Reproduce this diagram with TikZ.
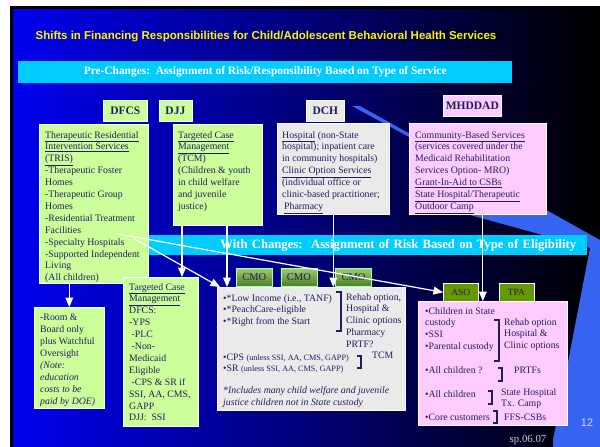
\documentclass[tikz,border=0pt]{standalone}
\usepackage{fontspec}
\setmainfont{Liberation Serif}
\newfontfamily\arialfont{Liberation Sans}
\usetikzlibrary{arrows,positioning}

\definecolor{slideblue}{RGB}{0,0,240}
\definecolor{slidestripe}{RGB}{55,100,240}
\definecolor{barcyan}{RGB}{0,204,255}
\definecolor{boxgreen}{RGB}{204,255,153}
\definecolor{boxgray}{RGB}{234,234,234}
\definecolor{boxpink}{RGB}{255,204,255}
\definecolor{ink}{RGB}{30,30,96}
\definecolor{olivebox}{RGB}{102,153,0}
\definecolor{cmotop}{RGB}{160,205,110}
\definecolor{cmobottom}{RGB}{75,125,35}

\newcommand{\bodysize}{\fontsize{9.8}{11.9}\selectfont}
\newcommand{\notesize}{\fontsize{8.2}{10}\selectfont}

\begin{document}
\begin{tikzpicture}[x=1pt,y=-1pt,>=triangle 45]
  \tikzstyle{panel}=[draw=white,line width=0.6pt,anchor=north west,inner sep=0pt]
  \tikzstyle{tag}=[panel,text=ink,font=\fontsize{11.5}{12}\selectfont\bfseries]
  \tikzstyle{cmo}=[panel,draw=white!70!green,top color=cmotop,bottom color=cmobottom,
                   minimum width=36pt,minimum height=18pt,text=ink,font=\fontsize{10.5}{12}\selectfont]
  \tikzstyle{ins}=[panel,fill=olivebox,minimum width=35pt,minimum height=18pt,text=ink,
                   font=\fontsize{9.5}{12}\selectfont]
  \tikzstyle{txt}=[anchor=north west,inner sep=0pt,align=left,text=ink,font=\bodysize]
  \tikzstyle{bar}=[fill=barcyan,anchor=north west,inner sep=0pt,text=white]
  \tikzstyle{flow}=[->,draw=white,line width=1.2pt]
  \tikzstyle{brace}=[draw=ink,line width=1.6pt]

  \useasboundingbox (0,0) rectangle (600,447);
  \fill[black] (10,6) rectangle (600,447);
  \shade[left color=slideblue,middle color=slideblue!80!black,right color=black]
    (13,9) rectangle (600,447);
  \fill[slidestripe] (352,106) -- (360,106) -- (600,240) -- (600,447) -- (553,447)
    -- (553,440) -- (590,248) -- (470,215) -- (409,137) -- cycle;

  \node[text=yellow,font=\arialfont\bfseries\fontsize{11.5}{13}\selectfont] (title) at (266,37)
    {Shifts in Financing Responsibilities for Child/Adolescent Behavioral Health Services};
  \node[bar,minimum width=494pt,minimum height=22pt,font=\bfseries\fontsize{11.4}{13}\selectfont]
    (pre) at (18,61) {Pre-Changes:\ \ Assignment of Risk/Responsibility Based on Type of Service};
  \node[bar,text width=420pt,inner xsep=11pt,minimum height=20pt,align=right,
        font=\bfseries\fontsize{12.7}{15}\selectfont]
    (post) at (145,235) {With Changes:\ \ Assignment of Risk Based on Type of Eligibility};

  \node[tag,fill=boxgreen,minimum width=44pt,minimum height=21pt] (dfcs) at (103,100) {DFCS};
  \node[tag,fill=boxgreen,minimum width=33pt,minimum height=21pt,right=11pt of dfcs] (djj) {DJJ};
  \node[tag,fill=boxgray,minimum width=38pt,minimum height=21pt] (dch) at (306,100) {DCH};
  \node[tag,fill=boxpink,minimum width=58pt,minimum height=21pt] (mhddad) at (443,95) {MHDDAD};

  \node[panel,fill=boxgreen,minimum width=109pt,minimum height=159pt] (tris) at (39,124) {};
  \node[panel,fill=boxgreen,minimum width=89pt,minimum height=101pt] (djjtcm) at (173,124) {};
  \node[panel,fill=boxgray,minimum width=112pt,minimum height=91pt] (dchbox) at (277,123) {};
  \node[panel,fill=boxpink,minimum width=137pt,minimum height=91pt] (mhbox) at (409,123) {};
  \node[panel,fill=boxgreen,minimum width=70pt,minimum height=101pt] (room) at (34,307) {};
  \node[panel,fill=boxgreen,minimum width=75pt,minimum height=149pt] (tcm) at (123,277) {};
  \node[panel,fill=boxgray,minimum width=188pt,minimum height=123pt] (mid) at (217,287) {};
  \node[panel,fill=boxpink,minimum width=149pt,minimum height=124pt] (elig) at (418,301) {};

  \node[txt] (tristxt) at ([shift={(6,7)}]tris.north west)
    {\underline{Therapeutic Residential}\\\underline{Intervention Services}\\\underline{(TRIS)}\\
     -Therapeutic Foster\\Homes\\-Therapeutic Group\\Homes\\-Residential Treatment\\Facilities\\
     -Specialty Hospitals\\-Supported Independent\\Living\\(All children)};
  \node[txt] (djjtxt) at ([shift={(5,7)}]djjtcm.north west)
    {\underline{Targeted Case}\\\underline{Management}\\(TCM)\\(Children \& youth\\in child welfare\\
     and juvenile\\justice)};
  \node[txt] (dchtxt) at ([shift={(5,8)}]dchbox.north west)
    {\underline{Hospital} (non-State\\hospital); inpatient care\\in community hospitals)\\
     \underline{Clinic Option Services}\\(individual office or\\clinic-based practitioner;\\
     \hspace*{2pt}\underline{Pharmacy}};
  \node[txt] (mhtxt) at ([shift={(6,8)}]mhbox.north west)
    {\underline{Community-Based Services}\\(services covered under the\\Medicaid Rehabilitation\\
     Services Option- MRO)\\\underline{Grant-In-Aid to CSBs}\\\underline{State Hospital/Therapeutic}\\
     \underline{Outdoor Camp}};
  \node[txt] (roomtxt) at ([shift={(6,7)}]room.north west)
    {-Room \&\\Board only\\plus Watchful\\Oversight\\\textit{(Note:}\\\textit{education}\\
     \textit{costs to be}\\\textit{paid by DOE)}};
  \node[txt] (tcmtxt) at ([shift={(6,6)}]tcm.north west)
    {\underline{Targeted Case}\\\underline{Management}\\DFCS:\\-YPS\\\hspace*{2.5pt}-PLC\\
     \hspace*{2.5pt}-Non-\\Medicaid\\Eligible\\\hspace*{2.5pt}-CPS \& SR if\\SSI, AA, CMS,\\GAPP\\
     DJJ:\ \ SSI};

  \node[cmo] (cmoa) at (236,268) {CMO};
  \node[cmo,right=8pt of cmoa] (cmob) {CMO};
  \node[cmo,right=18pt of cmob] (cmoc) {CMO};
  \node[ins] (aso) at (443,283) {ASO};
  \node[ins,right=20pt of aso] (tpa) {TPA};

  \node[txt] (midgroups) at ([shift={(6,7)}]mid.north west)
    {•*Low Income (i.e., TANF)\\•*PeachCare-eligible\\•*Right from the Start};
  \node[txt] (midservices) at ([shift={(129,6)}]mid.north west)
    {Rehab option,\\Hospital \&\\Clinic options\\Pharmacy\\PRTF?};
  \node[txt,font=\fontsize{9.8}{10.7}\selectfont] (midcps) at ([shift={(6,67)}]mid.north west)
    {•CPS {\notesize(unless SSI, AA, CMS, GAPP)}\\•SR {\notesize(unless SSI, AA, CMS, GAPP)}};
  \node[txt] (midtcm) at ([shift={(155,65)}]mid.north west) {TCM};
  \node[txt,font=\fontsize{9.8}{12.3}\selectfont\itshape] (midnote) at ([shift={(6,99)}]mid.north west)
    {*Includes many child welfare and juvenile\\justice children not in State custody};
  \draw[brace,line width=2pt] (336,292) -- (341,292) -- (341,331) -- (336,331);
  \draw[brace] (357,356) -- (361,356) -- (361,368) -- (357,368);

  \node[txt] (eliggroups) at ([shift={(7,6)}]elig.north west)
    {•Children in State\\custody\\•SSI\\•Parental custody};
  \node[txt] (eligservices) at ([shift={(86,17)}]elig.north west)
    {Rehab option\\Hospital \&\\Clinic options};
  \node[txt] (eligall) at ([shift={(7,65)}]elig.north west) {•All children ?};
  \node[txt] (eligprtf) at ([shift={(96,66)}]elig.north west) {PRTFs};
  \node[txt] (eligchild) at ([shift={(7,89)}]elig.north west) {•All children};
  \node[txt] (eligstate) at ([shift={(83,87)}]elig.north west) {State Hospital\\Tx. Camp};
  \node[txt] (eligcore) at ([shift={(7,113)}]elig.north west) {•Core customers};
  \node[txt] (eligffs) at ([shift={(86,113)}]elig.north west) {FFS-CSBs};
  \draw[brace,line width=2pt] (494,320) -- (499,320) -- (499,361) -- (494,361);
  \draw[brace] (498,368) -- (502,368) -- (502,381) -- (498,381);
  \draw[brace] (488,391) -- (492,391) -- (492,404) -- (488,404);
  \draw[brace] (493,411) -- (497,411) -- (497,423) -- (493,423);

  \node[text=white!85!blue,font=\arialfont\fontsize{10.8}{12}\selectfont] (pageno) at (587,423) {12};
  \node[text=gray!40,font=\fontsize{10.8}{12}\selectfont] (slideid) at (528,440) {sp.06.07};

  \coordinate (djjfoot) at ([xshift=9pt]djjtcm.south west);
  \coordinate (midcorner) at ([xshift=10pt]mid.north west);
  \coordinate (mhfoot) at ([xshift=5pt]mhbox.south);
  \coordinate (trisa) at ([shift={(79,110)}]tris.north west);
  \coordinate (trisb) at ([shift={(94,114)}]tris.north west);
  \draw[flow] (tris.south -| room.north) -- (room.north);
  \draw[flow] (djjfoot) -- (djjfoot |- tcm.north);
  \draw[flow] (midcorner |- djjtcm.south) -- (midcorner);
  \draw[flow] (dchbox.south) -- (dchbox.south |- mid.north);
  \draw[flow] (mhfoot) -- (mhfoot |- elig.north);
  \draw[flow] (trisa) -- (aso.west);
  \draw[flow] (trisb) -- ([xshift=3pt]mid.north west);
\end{tikzpicture}
\end{document}
